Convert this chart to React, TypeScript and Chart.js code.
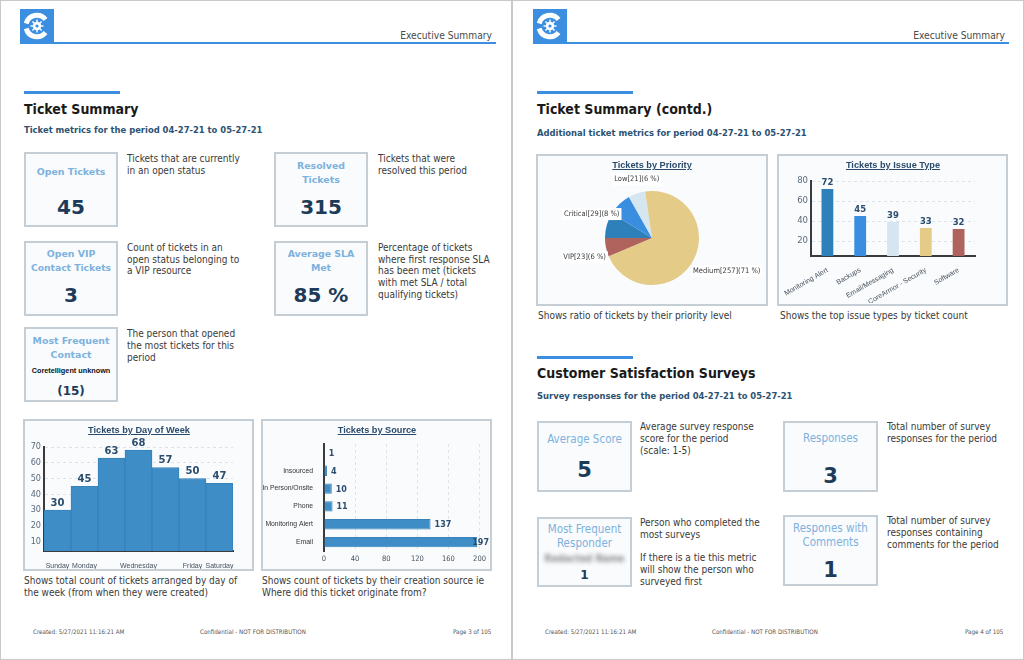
import React, { useEffect, useRef } from 'react';
import { Chart, registerables } from 'chart.js';

Chart.register(...registerables);

const FONT = '"DejaVu Sans Condensed", "Liberation Sans", sans-serif';
const FONT_W = '"DejaVu Sans", "Liberation Sans", sans-serif';
const FONT_A = '"Liberation Sans", Arial, sans-serif';

// ---------- data ----------
const dayLabels = ['Sunday', 'Monday', 'Tuesday', 'Wednesday', 'Thursday', 'Friday', 'Saturday'];
const dayValues = [30, 45, 63, 68, 57, 50, 47];
const dayTicks = [10, 20, 30, 40, 50, 60, 70];
const dayHiddenLabels = ['Tuesday', 'Thursday'];

const sourceLabels = ['', 'Insourced', 'In Person/Onsite', 'Phone', 'Monitoring Alert', 'Email'];
const sourceValues = [1, 4, 10, 11, 137, 197];
const sourceTicks = [0, 40, 80, 120, 160, 200];

const priorityLabels = ['High', 'Critical', 'Low', 'Medium', 'VIP'];
const priorityValues = [32, 29, 21, 257, 23];
const priorityLabelShown = [false, true, true, true, true];
const priorityColors = ['#2e80bb', '#3a8ee0', '#d5e6f1', '#e5cb88', '#b0625c'];

const issueLabels = ['Monitoring Alert', 'Backups', 'Email/Messaging', 'CoreArmor - Security', 'Software'];
const issueValues = [72, 45, 39, 33, 32];
const issueTicks = [20, 40, 60, 80];
const issueColors = ['#2e80bb', '#3a8ee0', '#d5e6f1', '#e5cb88', '#b0625c'];

// ---------- plugins ----------
const valueLabelPlugin = {
  id: 'valueLabels',
  afterDatasetsDraw(chart: any, _args: any, opts: any) {
    if (!opts || !opts.font) return;
    const ctx = chart.ctx;
    const meta = chart.getDatasetMeta(0);
    const data = chart.data.datasets[0].data;
    ctx.save();
    ctx.font = opts.font;
    ctx.fillStyle = opts.color;
    meta.data.forEach((el: any, i: number) => {
      const txt = String(data[i]);
      if (opts.horizontal) {
        ctx.textAlign = 'left';
        ctx.textBaseline = 'middle';
        const w = ctx.measureText(txt).width;
        let x = el.x + opts.offset;
        if (x + w > chart.width - 1) x = chart.width - 1 - w;
        ctx.fillText(txt, x, el.y + 1);
      } else {
        ctx.textAlign = 'center';
        ctx.textBaseline = 'bottom';
        ctx.fillText(txt, el.x, el.y - opts.offset);
      }
    });
    ctx.restore();
  },
};

const pieLabelPlugin = {
  id: 'pieLabels',
  afterDatasetsDraw(chart: any, _args: any, opts: any) {
    if (!opts || !opts.font) return;
    const ctx = chart.ctx;
    const meta = chart.getDatasetMeta(0);
    const data: number[] = chart.data.datasets[0].data;
    const total = data.reduce((a, b) => a + b, 0);
    ctx.save();
    ctx.font = opts.font;
    ctx.textBaseline = 'middle';
    meta.data.forEach((el: any, i: number) => {
      if (!opts.shown[i]) return;
      const mid = (el.startAngle + el.endAngle) / 2;
      const c = Math.cos(mid);
      const s = Math.sin(mid);
      const d = el.outerRadius + opts.distance;
      const ax = el.x + c * d;
      const ey = el.y + s * d;
      // labels near the top sit above the rim, the others hang just below their rim point
      const ay = s < -0.85 ? ey - opts.lift : ey + opts.drop;
      const txt = `${chart.data.labels[i]}[${data[i]}](${Math.round((data[i] / total) * 100)} %)`;
      const w = ctx.measureText(txt).width;
      let left = ax;
      if (Math.abs(c) < 0.4) left = ax - w / 2;
      else if (c < 0) left = ax - w;
      ctx.fillStyle = '#ffffff';
      ctx.fillRect(left - 2, ay - 6, w + 4, 12);
      ctx.fillStyle = opts.color;
      ctx.textAlign = 'left';
      ctx.fillText(txt, left, ay);
    });
    ctx.restore();
  },
};

// ---------- configs ----------
const axisLine = { display: true, color: '#3a3a3a', width: 2 };

const dayConfig: any = {
  type: 'bar',
  data: {
    labels: dayLabels,
    datasets: [{
      data: dayValues,
      backgroundColor: '#3f8dc6',
      borderColor: '#3782b9',
      borderWidth: 1,
      barPercentage: 1,
      categoryPercentage: 1,
    }],
  },
  options: {
    responsive: false,
    animation: false,
    layout: { padding: { left: 0, right: 19, top: 26, bottom: 0 } },
    plugins: {
      legend: { display: false },
      tooltip: { enabled: false },
      valueLabels: { font: `bold 10px ${FONT_W}`, color: '#2d4d6e', offset: 2 },
    },
    scales: {
      x: {
        grid: { display: false },
        border: axisLine,
        ticks: {
          autoSkip: false,
          maxRotation: 0,
          padding: 3,
          color: '#44505c',
          font: { family: FONT_A, size: 7 },
          callback: (_v: any, i: number) => (dayHiddenLabels.includes(dayLabels[i]) ? '' : dayLabels[i]),
        },
        afterFit: (s: any) => { s.height = 18; },
      },
      y: {
        min: 4,
        max: 70,
        afterBuildTicks: (ax: any) => { ax.ticks = dayTicks.map((v) => ({ value: v })); },
        grid: { color: '#dbe4ec', drawTicks: false },
        border: { ...axisLine, dash: [3, 3] },
        ticks: { padding: 3, color: '#5a6a7b', font: { family: FONT, size: 9 } },
        afterFit: (s: any) => { s.width = 19; },
      },
    },
  },
  plugins: [valueLabelPlugin],
};

const sourceConfig: any = {
  type: 'bar',
  data: {
    labels: sourceLabels,
    datasets: [{
      data: sourceValues,
      backgroundColor: '#3f8dc6',
      borderColor: '#3782b9',
      borderWidth: 1,
      barPercentage: 0.58,
      categoryPercentage: 1,
    }],
  },
  options: {
    indexAxis: 'y',
    responsive: false,
    animation: false,
    layout: { padding: { left: 0, right: 9, top: 23, bottom: 0 } },
    plugins: {
      legend: { display: false },
      tooltip: { enabled: false },
      valueLabels: { font: `bold 8px ${FONT_W}`, color: '#2d4d6e', offset: 4, horizontal: true },
    },
    scales: {
      x: {
        min: 0,
        max: 200,
        afterBuildTicks: (ax: any) => { ax.ticks = sourceTicks.map((v) => ({ value: v })); },
        grid: { color: '#dbe4ec', drawTicks: false },
        border: { display: false, dash: [3, 3] },
        ticks: { padding: 4, color: '#44505c', font: { family: FONT, size: 7.5 } },
        afterFit: (s: any) => { s.height = 18; },
      },
      y: {
        grid: { display: false },
        border: axisLine,
        ticks: { padding: 3, color: '#333', font: { family: FONT_A, size: 6.8 } },
        afterFit: (s: any) => { s.width = 61; },
      },
    },
  },
  plugins: [valueLabelPlugin],
};

const priorityConfig: any = {
  type: 'pie',
  data: {
    labels: priorityLabels,
    datasets: [{ data: priorityValues, backgroundColor: priorityColors, borderWidth: 0 }],
  },
  options: {
    responsive: false,
    animation: false,
    rotation: -90,
    layout: { padding: { top: 35, bottom: 18, left: 0, right: 0 } },
    plugins: {
      legend: { display: false },
      tooltip: { enabled: false },
      pieLabels: { font: `7.5px ${FONT}`, color: '#3b3b3b', distance: 0, drop: 10, lift: 14, shown: priorityLabelShown },
    },
  },
  plugins: [pieLabelPlugin],
};

const issueConfig: any = {
  type: 'bar',
  data: {
    labels: issueLabels,
    datasets: [{
      data: issueValues,
      backgroundColor: issueColors,
      borderColor: '#ffffff',
      borderWidth: 0,
      barPercentage: 0.36,
      categoryPercentage: 1,
    }],
  },
  options: {
    responsive: false,
    animation: false,
    layout: { padding: { left: 0, right: 31, top: 25, bottom: 0 } },
    plugins: {
      legend: { display: false },
      tooltip: { enabled: false },
      valueLabels: { font: `bold 8.5px ${FONT_W}`, color: '#2d4d6e', offset: 2 },
    },
    scales: {
      x: {
        grid: { display: false },
        border: axisLine,
        ticks: {
          autoSkip: false,
          minRotation: 30,
          maxRotation: 30,
          padding: 2,
          color: '#44505c',
          font: { family: FONT_A, size: 7 },
        },
        afterFit: (s: any) => { s.height = 47; },
      },
      y: {
        min: 5,
        max: 80,
        afterBuildTicks: (ax: any) => { ax.ticks = issueTicks.map((v) => ({ value: v })); },
        grid: { color: '#dbe4ec', drawTicks: false },
        border: { ...axisLine, dash: [3, 3] },
        ticks: { padding: 3, color: '#5a6a7b', font: { family: FONT, size: 9.5 } },
        afterFit: (s: any) => { s.width = 32; },
      },
    },
  },
  plugins: [valueLabelPlugin],
};

// ---------- components ----------
function ChartCanvas({ config, left, top, width, height }: any) {
  const ref = useRef<HTMLCanvasElement>(null);
  useEffect(() => {
    const chart = new Chart(ref.current as HTMLCanvasElement, config);
    return () => chart.destroy();
  }, []);
  return (
    <canvas
      ref={ref}
      width={width}
      height={height}
      style={{ position: 'absolute', left, top, width, height }}
    />
  );
}

const abs = (x: number, y: number, extra: any = {}) => ({ position: 'absolute' as const, left: x, top: y, whiteSpace: 'nowrap' as const, ...extra });

function Lines({ x, cy, lines, size = 10, step = 11.7, color = '#3a3a3a', font = FONT, weight = 400, w, align = 'left', extra = {} }: any) {
  return (
    <>
      {lines.map((t: string, i: number) => (
        <div
          key={i}
          style={abs(x, cy + i * step - step / 2, {
            height: step,
            lineHeight: `${step}px`,
            fontSize: size,
            fontFamily: font,
            fontWeight: weight,
            color,
            width: w,
            textAlign: align,
            ...extra,
          })}
        >
          {t}
        </div>
      ))}
    </>
  );
}

function Panel({ x, y, w, h }: any) {
  return (
    <div
      style={{
        position: 'absolute', left: x, top: y, width: w, height: h,
        border: '2px solid #c5cdd5', background: '#f9fbfd', boxSizing: 'border-box',
      }}
    />
  );
}

function CenterText({ x, w, cy, text, size, color, weight = 700, font = FONT_W, lh = 14, extra = {} }: any) {
  return (
    <div
      style={abs(x, cy - lh / 2, {
        width: w, height: lh, lineHeight: `${lh}px`, textAlign: 'center',
        fontSize: size, color, fontWeight: weight, fontFamily: font, ...extra,
      })}
    >
      {text}
    </div>
  );
}

function Logo({ x, y }: any) {
  return (
    <svg style={{ position: 'absolute', left: x, top: y }} width={34} height={34} viewBox="0 0 34 34">
      <rect x={0} y={0} width={34} height={34} fill="#3b8ee0" />
      <path d="M 25.5 10.5 A 11 11 0 0 0 6.2 14.5" stroke="#fff" strokeWidth={5} fill="none" />
      <path d="M 6.2 19.5 A 11 11 0 0 0 25.5 23.5" stroke="#fff" strokeWidth={5} fill="none" />
      <circle cx={17} cy={17} r={4.2} fill="#fff" />
      <g stroke="#fff" strokeWidth={1.4}>
        <line x1={17} y1={10.5} x2={17} y2={23.5} />
        <line x1={10.5} y1={17} x2={23.5} y2={17} />
        <line x1={12.4} y1={12.4} x2={21.6} y2={21.6} />
        <line x1={21.6} y1={12.4} x2={12.4} y2={21.6} />
      </g>
      <circle cx={17} cy={17} r={1.6} fill="#3b8ee0" />
    </svg>
  );
}

function PageHeader({ ox }: any) {
  return (
    <>
      <Logo x={ox + 20} y={9} />
      <div style={{ position: 'absolute', left: ox + 20, top: 42, width: 476, height: 2, background: '#3b8ee0' }} />
      <div style={abs(ox + 372, 29, { width: 120, textAlign: 'right', fontSize: 10.2, lineHeight: '13px', color: '#4a4a4a', fontFamily: FONT })}>
        Executive Summary
      </div>
    </>
  );
}

function Footer({ ox, page }: any) {
  const st = { fontSize: 6.2, color: '#555', fontFamily: FONT, lineHeight: '8px' };
  return (
    <>
      <div style={abs(ox + 33, 628, st)}>Created: 5/27/2021 11:16:21 AM</div>
      <div style={abs(ox + 200, 628, st)}>Confidential - NOT FOR DISTRIBUTION</div>
      <div style={abs(ox + 453, 628, st)}>{page}</div>
    </>
  );
}

function SectionTitle({ x, barY, titleCy, title, subCy, sub }: any) {
  return (
    <>
      <div style={{ position: 'absolute', left: x, top: barY, width: 96, height: 3, background: '#3b8ee0' }} />
      <div style={abs(x, titleCy - 10, { height: 20, lineHeight: '20px', fontSize: 14, fontWeight: 700, color: '#1a1a1a', fontFamily: FONT })}>
        {title}
      </div>
      <div style={abs(x, subCy - 6, { height: 12, lineHeight: '12px', fontSize: 9.35, fontWeight: 700, color: '#2c5272', fontFamily: FONT })}>
        {sub}
      </div>
    </>
  );
}

function ChartTitle({ cx, cy, text }: any) {
  return (
    <div
      style={abs(cx - 80, cy - 6, {
        width: 160, height: 12, lineHeight: '12px', textAlign: 'center', fontSize: 9.2,
        fontWeight: 700, color: '#2b4b6b', fontFamily: FONT_A, textDecoration: 'underline', zIndex: 2,
      })}
    >
      {text}
    </div>
  );
}

const kTitle = '#7db2dd';
const kValue = '#1d3b58';

export default function App() {
  useEffect(() => {
    document.body.style.margin = '0';
  }, []);
  return (
    <div style={{ position: 'fixed', left: 0, top: 0, width: 1024, height: 660, background: '#fff', overflow: 'hidden', fontFamily: FONT }}>
      <div style={{ position: 'absolute', left: 0, top: 0, width: 512, height: 660, border: '1px solid #c9c9c9', boxSizing: 'border-box' }} />
      <div style={{ position: 'absolute', left: 512, top: 0, width: 512, height: 660, border: '1px solid #c9c9c9', boxSizing: 'border-box' }} />

      {/* ================= LEFT PAGE ================= */}
      <PageHeader ox={0} />
      <SectionTitle x={24} barY={91} titleCy={108.5} title="Ticket Summary" subCy={129.5} sub="Ticket metrics for the period 04-27-21 to 05-27-21" />

      <Panel x={24} y={152} w={94} h={75} />
      <CenterText x={24} w={94} cy={172} text="Open Tickets" size={9.4} color={kTitle} />
      <CenterText x={24} w={94} cy={207} text="45" size={20} color={kValue} lh={24} />
      <Lines x={127} cy={159.3} lines={['Tickets that are currently', 'in an open status']} />

      <Panel x={274} y={152} w={94} h={75} />
      <CenterText x={274} w={94} cy={166} text="Resolved" size={9.4} color={kTitle} />
      <CenterText x={274} w={94} cy={180} text="Tickets" size={9.4} color={kTitle} />
      <CenterText x={274} w={94} cy={207} text="315" size={20} color={kValue} lh={24} />
      <Lines x={378} cy={159.3} lines={['Tickets that were', 'resolved this period']} />

      <Panel x={24} y={241} w={94} h={75} />
      <CenterText x={24} w={94} cy={254} text="Open VIP" size={9.4} color={kTitle} />
      <CenterText x={24} w={94} cy={268} text="Contact Tickets" size={9.2} color={kTitle} />
      <CenterText x={24} w={94} cy={295} text="3" size={20} color={kValue} lh={24} />
      <Lines x={127} cy={247.7} lines={['Count of tickets in an', 'open status belonging to', 'a VIP resource']} />

      <Panel x={274} y={241} w={94} h={75} />
      <CenterText x={274} w={94} cy={254} text="Average SLA" size={9.4} color={kTitle} />
      <CenterText x={274} w={94} cy={268} text="Met" size={9.4} color={kTitle} />
      <CenterText x={274} w={94} cy={295} text="85 %" size={20} color={kValue} lh={24} />
      <Lines x={378} cy={247.7} lines={['Percentage of tickets', 'where first response SLA', 'has been met (tickets', 'with met SLA / total', 'qualifying tickets)']} />

      <Panel x={24} y={327} w={94} h={75} />
      <CenterText x={24} w={94} cy={341} text="Most Frequent" size={9.4} color={kTitle} />
      <CenterText x={24} w={94} cy={355} text="Contact" size={9.4} color={kTitle} />
      <CenterText x={24} w={94} cy={371} text="Coretelligent unknown" size={7.3} color="#111" font={FONT_A} lh={10} />
      <CenterText x={24} w={94} cy={391} text="(15)" size={12} color={kValue} lh={16} />
      <Lines x={127} cy={334} lines={['The person that opened', 'the most tickets for this', 'period']} />

      {/* Tickets by Day of Week */}
      <Panel x={23} y={419} w={231} h={152} />
      <ChartCanvas config={dayConfig} left={25} top={421} width={227} height={148} />
      <ChartTitle cx={139} cy={430} text="Tickets by Day of Week" />
      <Lines x={24} cy={580.7} lines={['Shows total count of tickets arranged by day of', 'the week (from when they were created)']} />

      {/* Tickets by Source */}
      <Panel x={261} y={419} w={231} h={152} />
      <ChartCanvas config={sourceConfig} left={263} top={421} width={227} height={148} />
      <ChartTitle cx={377} cy={430} text="Tickets by Source" />
      <Lines x={262} cy={580.7} lines={['Shows count of tickets by their creation source ie', 'Where did this ticket originate from?']} />

      <Footer ox={0} page="Page 3 of 105" />

      {/* ================= RIGHT PAGE ================= */}
      <PageHeader ox={513} />
      <SectionTitle x={537} barY={91} titleCy={108.5} title="Ticket Summary (contd.)" subCy={132.5} sub="Additional ticket metrics for period 04-27-21 to 05-27-21" />

      <Panel x={536} y={154} w={232} h={152} />
      <ChartCanvas config={priorityConfig} left={538} top={156} width={228} height={147} />
      <ChartTitle cx={652} cy={165} text="Tickets by Priority" />
      <Lines x={538} cy={315.7} lines={['Shows ratio of tickets by their priority level']} />

      <Panel x={777} y={154} w={231} h={152} />
      <ChartCanvas config={issueConfig} left={779} top={156} width={227} height={147} />
      <ChartTitle cx={893} cy={165} text="Tickets by Issue Type" />
      <Lines x={780} cy={315.7} lines={['Shows the top issue types by ticket count']} />

      <SectionTitle x={537} barY={356} titleCy={372.5} title="Customer Satisfaction Surveys" subCy={395.7} sub="Survey responses for the period 04-27-21 to 05-27-21" />

      <Panel x={537} y={421} w={95} h={71} />
      <CenterText x={537} w={95} cy={439.3} text="Average Score" size={11.5} color={kTitle} weight={400} font={FONT} />
      <CenterText x={537} w={95} cy={470} text="5" size={21} color={kValue} lh={24} />
      <Lines x={640} cy={427} lines={['Average survey response', 'score for the period', '(scale: 1-5)']} />

      <Panel x={783} y={421} w={95} h={71} />
      <CenterText x={783} w={95} cy={438} text="Responses" size={11.5} color={kTitle} weight={400} font={FONT} />
      <CenterText x={783} w={95} cy={476} text="3" size={21} color={kValue} lh={24} />
      <Lines x={887} cy={427} lines={['Total number of survey', 'responses for the period']} />

      <Panel x={537} y={517} w={95} h={70} />
      <CenterText x={537} w={95} cy={529} text="Most Frequent" size={11.5} color={kTitle} weight={400} font={FONT} />
      <CenterText x={537} w={95} cy={543} text="Responder" size={11.5} color={kTitle} weight={400} font={FONT} />
      <CenterText x={537} w={95} cy={559} text="Redacted Name" size={10} color="#8a8a8a" weight={700} font={FONT} extra={{ filter: 'blur(2.2px)' }} />
      <CenterText x={537} w={95} cy={575} text="1" size={12} color={kValue} lh={16} />
      <Lines x={640} cy={523} lines={['Person who completed the', 'most surveys', '', 'If there is a tie this metric', 'will show the person who', 'surveyed first']} />

      <Panel x={783} y={515} w={95} h={71} />
      <CenterText x={783} w={95} cy={528} text="Respones with" size={11.5} color={kTitle} weight={400} font={FONT} />
      <CenterText x={783} w={95} cy={541.7} text="Comments" size={11.5} color={kTitle} weight={400} font={FONT} />
      <CenterText x={783} w={95} cy={570} text="1" size={21} color={kValue} lh={24} />
      <Lines x={887} cy={521} lines={['Total number of survey', 'responses containing', 'comments for the period']} />

      <Footer ox={512} page="Page 4 of 105" />
    </div>
  );
}
